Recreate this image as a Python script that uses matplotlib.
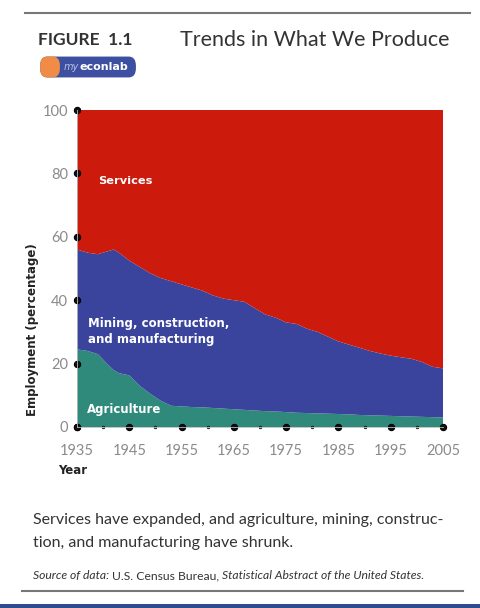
import numpy as np
import matplotlib.pyplot as plt
from matplotlib.patches import FancyBboxPatch, Rectangle
from matplotlib.lines import Line2D

# employment shares (percent)
years = [1935, 1937, 1939, 1941, 1942, 1943, 1945, 1947, 1949, 1951, 1953, 1955,
         1957, 1959, 1961, 1963, 1965, 1967, 1969, 1971, 1973, 1975, 1977, 1979,
         1981, 1983, 1985, 1987, 1989, 1991, 1993, 1995, 1997, 1999, 2001, 2003, 2005]
agriculture = [24.5, 24.0, 23.0, 19.5, 18.0, 17.0, 16.3, 13.0, 10.5, 8.3, 6.7, 6.5,
               6.3, 6.2, 6.0, 5.8, 5.6, 5.4, 5.2, 5.0, 4.9, 4.7, 4.5, 4.4,
               4.3, 4.2, 4.1, 4.0, 3.8, 3.7, 3.6, 3.5, 3.4, 3.3, 3.2, 3.1, 3.0]
goods = [31.5, 31.0, 31.5, 36.0, 38.0, 38.0, 36.2, 37.5, 38.0, 38.7, 39.3, 38.5,
         37.7, 36.8, 35.5, 34.7, 34.4, 34.1, 32.3, 30.5, 29.6, 28.3, 28.0, 26.6,
         25.7, 24.3, 22.9, 22.0, 21.2, 20.3, 19.6, 19.0, 18.6, 18.2, 17.3, 15.9, 15.5]
services = [44.0, 45.0, 45.5, 44.5, 44.0, 45.0, 47.5, 49.5, 51.5, 53.0, 54.0, 55.0,
            56.0, 57.0, 58.5, 59.5, 60.0, 60.5, 62.5, 64.5, 65.5, 67.0, 67.5, 69.0,
            70.0, 71.5, 73.0, 74.0, 75.0, 76.0, 76.8, 77.5, 78.0, 78.5, 79.5, 81.0, 81.5]

xticks = [1935, 1945, 1955, 1965, 1975, 1985, 1995, 2005]
yticks = [0, 20, 40, 60, 80, 100]

W, H = 480, 608
def fx(x): return x / W
def fy(y): return 1 - y / H

c_agri = '#2f8a7c'
c_goods = '#3a449c'
c_serv = '#cc1a0c'

fig = plt.figure(figsize=(4.8, 6.08), dpi=100)
fig.patch.set_facecolor('white')

ax = fig.add_axes([fx(77), fy(427), fx(443) - fx(77), fy(110) - fy(427)])
ax.stackplot(years, agriculture, goods, services,
             colors=[c_agri, c_goods, c_serv], linewidth=0)
ax.set_xlim(1935, 2005)
ax.set_ylim(0, 100)
ax.set_xticks(xticks)
ax.set_yticks(yticks)
ax.set_xticks(np.arange(1940, 2005, 10), minor=True)
for s in ['top', 'right']:
    ax.spines[s].set_visible(False)
for s in ['left', 'bottom']:
    ax.spines[s].set_color('#bbbbbb')
    ax.spines[s].set_linewidth(0.6)

tick_font = dict(family='Lato', size=10.5, color='#8a8a8a')
ax.set_xticklabels([str(y) for y in xticks], **tick_font)
ax.set_yticklabels([str(v) for v in yticks], **tick_font)
ax.tick_params(axis='x', which='major', pad=9)
ax.tick_params(axis='y', which='major', pad=3)
for t in ax.xaxis.get_major_ticks() + ax.yaxis.get_major_ticks():
    t.tick1line.set_marker('o')
    t.tick1line.set_markersize(4.5)
    t.tick1line.set_color('#111111')
for t in ax.xaxis.get_minor_ticks():
    t.tick1line.set_marker('o')
    t.tick1line.set_markersize(1.8)
    t.tick1line.set_color('#bbbbbb')
for t in ax.get_xticklines() + ax.get_yticklines():
    t.set_clip_on(False)

lab = dict(color='white', fontweight='bold', family='DejaVu Sans',
           va='center', ha='left')
fig.text(fx(98), fy(181), 'Services', size=8.2, **lab)
fig.text(fx(88), fy(323), 'Mining, construction,', size=8.5, **lab)
fig.text(fx(88), fy(340), 'and manufacturing', size=8.5, **lab)
fig.text(fx(87), fy(410), 'Agriculture', size=8.5, **lab)

fig.text(fx(33), fy(330), 'Employment (percentage)', rotation=90, ha='center',
         va='center', fontweight='bold', family='DejaVu Sans', size=8.5, color='#222222')
fig.text(fx(58), fy(470), 'Year', ha='left', va='center', fontweight='bold',
         family='DejaVu Sans', size=8.5, color='#222222')

# header
fig.add_artist(Line2D([fx(25), fx(470)], [fy(13), fy(13)], color='#777777', lw=1.5))
fig.text(fx(38), fy(40), 'FIGURE  1.1', ha='left', va='center', fontweight='bold',
         family='Lato', size=12.5, color='#333333')
fig.text(fx(180), fy(40), 'Trends in What We Produce', ha='left', va='center',
         family='Lato', size=15.5, color='#333333')

# myeconlab badge
fig.add_artist(FancyBboxPatch((fx(42), fy(75)), fx(92), fy(59) - fy(75),
                              boxstyle='round,pad=0.004,rounding_size=0.015',
                              fc='#3c4fa0', ec='none', transform=fig.transFigure))
fig.add_artist(FancyBboxPatch((fx(42), fy(75)), fx(16), fy(59) - fy(75),
                              boxstyle='round,pad=0.004,rounding_size=0.015',
                              fc='#f08c46', ec='none', transform=fig.transFigure))
fig.text(fx(64), fy(67), 'my', ha='left', va='center', style='italic',
         family='DejaVu Sans', size=7, color='#b8c0e8')
fig.text(fx(80), fy(67), 'econlab', ha='left', va='center', fontweight='bold',
         family='DejaVu Sans', size=8, color='white')

# caption
cap = dict(ha='left', va='center', family='Lato', size=11.5, color='#333333')
fig.text(fx(33), fy(520), 'Services have expanded, and agriculture, mining, construc-', **cap)
fig.text(fx(33), fy(543), 'tion, and manufacturing have shrunk.', **cap)
src = dict(va='center', family='Lato', size=8.7, color='#333333')
t1 = fig.text(fx(33), fy(576), 'Source of data: ', style='italic', ha='left', **src)
fig.canvas.draw()
r = fig.canvas.get_renderer()
x1 = t1.get_window_extent(r).x1
t2 = fig.text(x1 / W, fy(576), 'U.S. Census Bureau, ', ha='left', **src)
x2 = t2.get_window_extent(r).x1
fig.text(x2 / W, fy(576), 'Statistical Abstract of the United States.', style='italic',
         ha='left', **src)

fig.add_artist(Line2D([fx(22), fx(463)], [fy(591), fy(591)], color='#777777', lw=1.5))
fig.add_artist(Rectangle((0, 0), 1, fy(604), fc='#2d4b8e', ec='none',
                         transform=fig.transFigure))

fig.savefig('out.png', dpi=100)
